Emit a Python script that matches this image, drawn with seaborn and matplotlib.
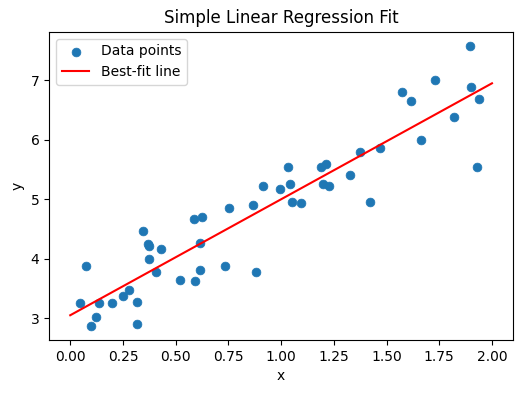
import numpy as np
import matplotlib.pyplot as plt
import seaborn as sns

# Data
x_vals = [0.047, 0.075, 0.100, 0.120, 0.137, 0.200, 0.250, 0.280, 0.316, 0.316,
          0.344, 0.368, 0.373, 0.373, 0.405, 0.430, 0.520, 0.585, 0.590, 0.613,
          0.613, 0.627, 0.736, 0.755, 0.868, 0.882, 0.915, 0.995, 1.033, 1.042,
          1.052, 1.094, 1.189, 1.198, 1.212, 1.226, 1.325, 1.373, 1.420, 1.467,
          1.571, 1.618, 1.665, 1.730, 1.820, 1.896, 1.900, 1.930, 1.940]
y_vals = [3.25, 3.87, 2.87, 3.02, 3.25, 3.25, 3.38, 3.47, 3.27, 2.90,
          4.46, 4.24, 4.21, 4.00, 3.77, 4.16, 3.64, 4.66, 3.62, 3.81,
          4.26, 4.71, 3.87, 4.86, 4.90, 3.77, 5.23, 5.17, 5.55, 5.25,
          4.95, 4.93, 5.55, 5.25, 5.60, 5.22, 5.40, 5.79, 4.95, 5.87,
          6.81, 6.65, 5.99, 7.00, 6.38, 7.58, 6.89, 5.55, 6.68]

# Fitted line parameters
intercept = 3.05
slope = 1.95
line_x = np.array([0.0, 2.0])
line_y = intercept + slope * line_x

fig, ax = plt.subplots(figsize=(5.23, 3.93), dpi=100)
fig.subplots_adjust(left=0.094, right=0.981, top=0.919, bottom=0.135)

sns.scatterplot(x=x_vals, y=y_vals, ax=ax, s=40, color="#1f77b4",
                edgecolor="#1f77b4", linewidth=0.5, label="Data points")
sns.lineplot(x=line_x, y=line_y, ax=ax, color="red", linewidth=1.5,
             label="Best-fit line")

ax.set_xlabel("x")
ax.set_ylabel("y")
ax.set_title("Simple Linear Regression Fit")
ax.legend(loc="upper left")

plt.savefig("out.png", dpi=100)
